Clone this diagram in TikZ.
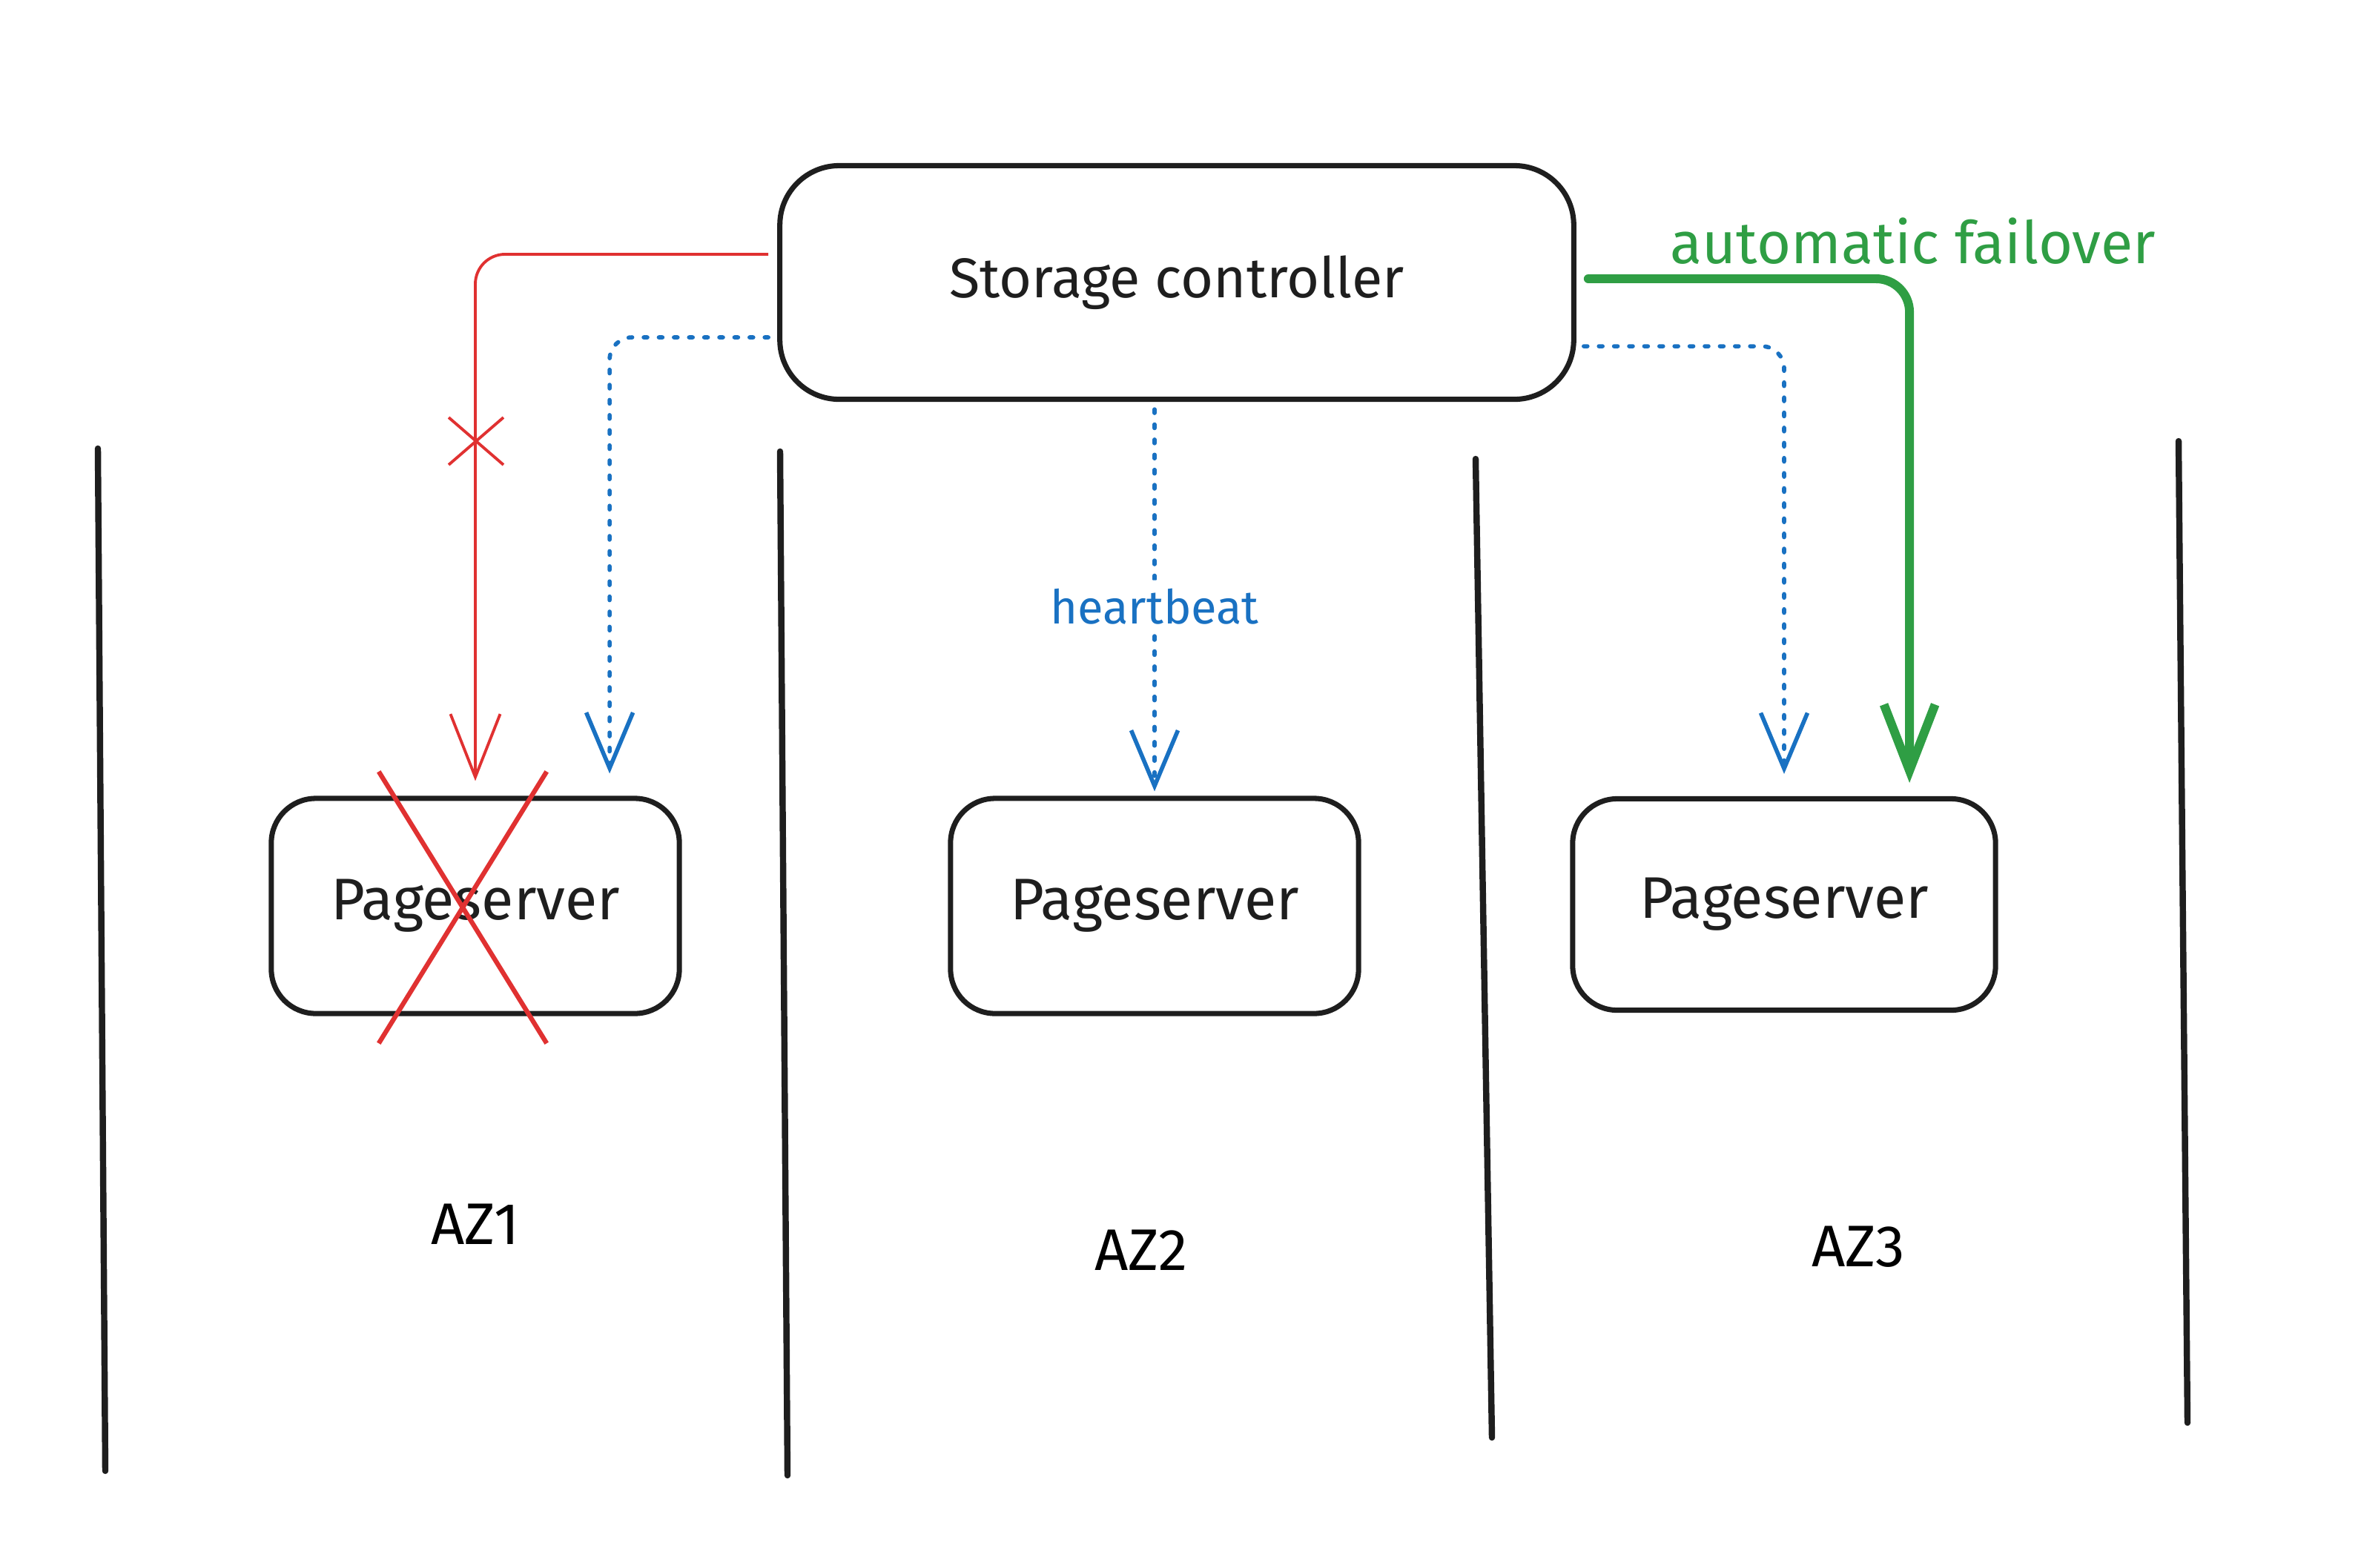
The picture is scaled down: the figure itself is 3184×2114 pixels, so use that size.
\documentclass[tikz,border=0pt]{standalone}
\usepackage{fontspec}
\setmainfont{Fira Sans}
\usetikzlibrary{arrows.meta}
\usetikzlibrary{shapes.misc}
\usetikzlibrary{positioning}
\definecolor{inkblack}{HTML}{1E1E1E}
\definecolor{beatblue}{HTML}{1971C2}
\definecolor{lostred}{HTML}{E03131}
\definecolor{failgreen}{HTML}{2F9E44}

\begin{document}
\begin{tikzpicture}[x=0.01cm, y=-0.01cm, on grid, semithick, font=\fontsize{22.5}{27}\selectfont,
  box/.style={draw=inkblack, line width=2pt, text=inkblack, inner sep=2pt},
  ctrlbox/.style={box, rounded corners=0.8cm, minimum width=10.7cm, minimum height=3.15cm},
  psbox/.style={box, rounded corners=0.6cm, minimum width=5.5cm, minimum height=2.9cm},
  azline/.style={draw=inkblack, line width=2.4pt, line cap=round},
  lost/.style={lostred, line width=1.1pt, rounded corners=0.4cm, -{Straight Barb[length=0.85cm, width=0.67cm]}},
  beat/.style={beatblue, line width=1.6pt, line cap=round, dash pattern=on 1.4pt off 4.4pt, rounded corners=0.3cm, -{Straight Barb[length=0.75cm, width=0.63cm]}},
  failover/.style={failgreen, line width=3.4pt, line cap=round, rounded corners=0.45cm, -{Straight Barb[length=0.89cm, width=0.69cm]}},
  crossed/.style={cross out, draw=lostred, inner sep=0pt}]

\useasboundingbox (0,0) rectangle (3184,2114);

% zone separators
\draw [azline] (132,605) -- (142,1984);
\draw [azline] (1052,609) -- (1062,1990);
\draw [azline] (1990,619) -- (2012,1939);
\draw [azline] (2938,595) -- (2950,1919);

\node [ctrlbox, font=\fontsize{21.5}{26}\selectfont] (ctrl) at (1587,381) {Storage controller};
\node [psbox] (ps1) at (641,1222) {Pageserver};
\node [psbox] (ps2) at (1557,1222) {Pageserver};
\node [psbox, minimum width=5.7cm, minimum height=2.85cm] (ps3) at (2406,1220) {Pageserver};

\node (az1) [below=4.29cm of ps1] {AZ1};
\node (az2) [below left=4.64cm and 0.18cm of ps2] {AZ2};
\node (az3) [below right=4.61cm and 1cm of ps3] {AZ3};

\node [failgreen] (failtext) at (2580,325) {automatic failover};

\draw [lost, shorten <=0.12cm, shorten >=0.2cm] ([yshift=0.38cm]ctrl.west) -| (ps1.north);
\draw [beat, shorten <=0.12cm, shorten >=0.3cm] ([yshift=-0.74cm]ctrl.west) -| ([xshift=1.81cm]ps1.north);
\draw [beat, shorten <=0.1cm, shorten >=0.06cm] (ps2.north |- ctrl.south) -- node [fill=white, text=beatblue, font=\fontsize{18}{22}\selectfont, pos=0.52] (beattext) {heartbeat} (ps2.north);
\draw [beat, shorten <=0.1cm, shorten >=0.3cm] ([yshift=-0.86cm]ctrl.east) -| (ps3.north);
\draw [failover, shorten <=0.16cm, shorten >=0.18cm] ([yshift=0.05cm]ctrl.east) -| ([xshift=1.69cm]ps3.north);

% failed link and failed pageserver
\node [crossed, line width=1.1pt, minimum width=0.7cm, minimum height=0.6cm] (cut) at (642,595) {};
\node [crossed, line width=1.8pt, minimum width=2.2cm, minimum height=3.6cm] (down) at (624,1224) {};

\end{tikzpicture}
\end{document}
